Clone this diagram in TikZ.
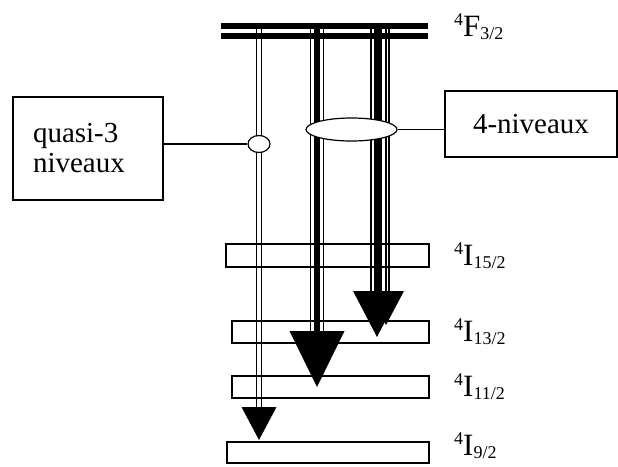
\documentclass[tikz,border=0pt]{standalone}
\usepackage{fontspec}
\setmainfont{Liberation Serif}
\newfontfamily\tnr{Liberation Serif}
\usetikzlibrary{shapes.geometric}
\newcommand{\lvltxt}[3]{{\tnr\fontsize{31}{31}\selectfont\raisebox{11pt}{\fontsize{18}{18}\selectfont #1}#2\raisebox{-3pt}{\fontsize{18}{18}\selectfont #3}}}
\begin{document}
\begin{tikzpicture}[x=1pt,y=-1pt,
  every node/.style={font=\tnr},
  lvlbox/.style={draw, line width=1.2pt, rectangle, inner sep=0pt, minimum height=22pt},
  lbl/.style={anchor=base west, inner sep=0pt},
  tbox/.style={draw, line width=1.2pt, rectangle, font=\tnr\fontsize{29}{30}\selectfont},
  shaft/.style={line width=1.8pt},
  core/.style={line width=6pt},
  ell/.style={draw, fill=white, ellipse, line width=1.2pt, inner sep=0pt},
  conn/.style={line width=1.2pt}
]
\useasboundingbox (0,0) rectangle (618,466);

% energy levels
\node[lvlbox, minimum width=203pt, minimum height=23pt] (l15) at (327.5,255.5) {};
\node[lvlbox, minimum width=197pt] (l13) at (330.5,332) {};
\node[lvlbox, minimum width=197pt] (l11) at (330.5,387) {};
\node[lvlbox, minimum width=202pt, minimum height=21pt] (l9) at (328,452.5) {};

% top level (double bar)
\fill (221,22.5) rectangle (428,28.5);
\fill (221,33) rectangle (428,39);

% arrow 1 (quasi-3 niveaux)
\coordinate (a1s) at (259,29);
\coordinate (a1h) at (259,407);
\coordinate (a1t) at (259,440);
\draw[shaft] ([xshift=-2.5pt]a1s) -- ([xshift=-2.5pt]a1h);
\draw[shaft] ([xshift=2.5pt]a1s) -- ([xshift=2.5pt]a1h);
\fill ([xshift=-17.5pt]a1h) -- ([xshift=17.5pt]a1h) -- (a1t) -- cycle;

% arrow 2
\coordinate (a2s) at (317,29);
\coordinate (a2h) at (317,331);
\coordinate (a2t) at (317,387);
\draw[shaft] ([xshift=-6.5pt]a2s) -- ([xshift=-6.5pt]a2h);
\draw[core] (a2s) -- (a2h);
\draw[shaft] ([xshift=6.5pt]a2s) -- ([xshift=6.5pt]a2h);
\fill ([xshift=-27.5pt]a2h) -- ([xshift=27.5pt]a2h) -- (a2t) -- cycle;

% arrows 3
\coordinate (a3s) at (378,29);
\coordinate (a3h) at (378,291);
\coordinate (a3t) at (377,337);
\coordinate (a4s) at (389,29);
\coordinate (a4h) at (389,291);
\coordinate (a4t) at (386,325);
\draw[shaft] ([xshift=-7pt]a3s) -- ([xshift=-7pt]a3h);
\draw[line width=8pt] (a3s) -- (a3h);
\draw[shaft] ([xshift=8pt]a3s) -- ([xshift=8pt]a3h);
\draw[shaft] (a4s) -- (a4h);
\fill ([xshift=-25pt]a3h) -- ([xshift=23pt]a3h) -- (a3t) -- cycle;
\fill ([xshift=-21pt]a4h) -- ([xshift=15pt]a4h) -- (a4t) -- cycle;

% ellipses
\node[ell, minimum width=91pt, minimum height=23pt] (bell) at (351.5,129.5) {};
\node[ell, minimum width=22pt, minimum height=17pt] (sell) at (259,144) {};

% text boxes
\node[tbox, minimum width=172pt, minimum height=66pt] (nbox) at (531,124) {4-niveaux};
\node[tbox, text width=110pt, inner xsep=20pt, minimum height=103pt, align=left] (qbox) at (88,148.5) {quasi-3\\niveaux};

% connectors
\draw[conn] (sell.west) -- (sell.west -| qbox.east);
\draw[conn] (bell.east) -- (bell.east -| nbox.west);

% labels
\node[lbl] (tf) at (454,36) {\lvltxt{4}{F}{3/2}};
\node[lbl] (t15) at (454,265) {\lvltxt{4}{I}{15/2}};
\node[lbl] (t13) at (454,341) {\lvltxt{4}{I}{13/2}};
\node[lbl] (t11) at (454,396) {\lvltxt{4}{I}{11/2}};
\node[lbl] (t9) at (454,455) {\lvltxt{4}{I}{9/2}};
\end{tikzpicture}
\end{document}
